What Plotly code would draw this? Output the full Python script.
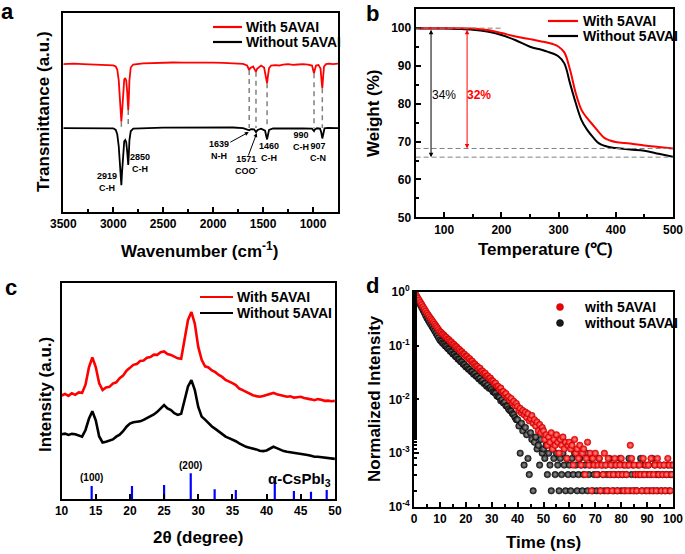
import plotly.graph_objects as go

# ---------------- data ----------------
# (a) FTIR
FTIR_WN_RED = [3500, 3400, 3300, 3200, 3100, 3050, 3000, 2975, 2960, 2945, 2935, 2925, 2919, 2912, 2900, 2890, 2880, 2870,
               2860, 2855, 2850, 2845, 2838, 2825, 2800, 2700, 2600, 2500, 2400, 2300, 2200, 2100, 2000, 1900, 1800, 1700,
               1660, 1645, 1639, 1630, 1600, 1580, 1571, 1560, 1520, 1490, 1475, 1465, 1460, 1452, 1440, 1420, 1380, 1340,
               1300, 1250, 1200, 1150, 1100, 1050, 1010, 995, 990, 983, 970, 945, 925, 915, 907, 900, 890, 870, 840, 800,
               760, 750]
FTIR_RED = [0.742, 0.744, 0.742, 0.740, 0.737, 0.735, 0.736, 0.730, 0.715, 0.660, 0.580, 0.490, 0.453, 0.500, 0.620,
            0.665, 0.672, 0.660, 0.600, 0.540, 0.512, 0.560, 0.660, 0.725, 0.740, 0.746, 0.748, 0.748, 0.750, 0.749,
            0.750, 0.750, 0.749, 0.748, 0.746, 0.743, 0.735, 0.715, 0.712, 0.722, 0.730, 0.712, 0.704, 0.718, 0.735,
            0.725, 0.690, 0.650, 0.646, 0.680, 0.722, 0.735, 0.737, 0.735, 0.740, 0.742, 0.738, 0.740, 0.742, 0.740,
            0.735, 0.705, 0.696, 0.712, 0.735, 0.738, 0.720, 0.660, 0.621, 0.670, 0.730, 0.742, 0.744, 0.742, 0.745,
            0.744]
FTIR_WN_BLACK = [3500, 3300, 3100, 3000, 2975, 2960, 2945, 2935, 2925, 2919, 2912, 2900, 2890, 2880, 2870, 2860, 2855,
                 2850, 2845, 2838, 2825, 2800, 2500, 2000, 1800, 1700, 1660, 1639, 1620, 1590, 1571, 1555, 1520, 1480,
                 1468, 1460, 1452, 1440, 1400, 1300, 1200, 1100, 1010, 995, 990, 982, 960, 930, 918, 907, 898, 885,
                 850, 800, 750]
FTIR_BLACK = [0.421, 0.420, 0.421, 0.420, 0.412, 0.390, 0.330, 0.250, 0.170, 0.135, 0.200, 0.320, 0.355, 0.361, 0.350,
              0.300, 0.265, 0.236, 0.280, 0.360, 0.405, 0.418, 0.423, 0.425, 0.424, 0.421, 0.414, 0.410, 0.416, 0.415,
              0.401, 0.412, 0.418, 0.408, 0.380, 0.364, 0.385, 0.412, 0.419, 0.420, 0.421, 0.420, 0.418, 0.408, 0.406,
              0.414, 0.420, 0.418, 0.400, 0.369, 0.400, 0.420, 0.422, 0.420, 0.421]
PEAK_WN = [2919, 2850, 1639, 1571, 1460, 990, 907]
PEAK_RED_DIP = [0.453, 0.512, 0.712, 0.704, 0.646, 0.696, 0.621]
PEAK_BLACK_LEVEL = [0.421, 0.421, 0.421, 0.421, 0.421, 0.421, 0.421]

# (b) TGA
TGA_T = [50, 75, 100, 125, 150, 175, 200, 225, 250, 270, 280, 290, 300, 310, 320, 330, 340, 350, 360, 370, 380, 390,
         400, 425, 450, 475, 500]
TGA_WITH = [100.0, 100.0, 100.0, 100.0, 99.9, 99.5, 98.7, 97.8, 97.1, 96.5, 96.2, 95.8, 95.1, 93.6, 89.0, 82.8, 78.4,
            76.2, 74.4, 72.6, 71.0, 70.3, 69.9, 69.5, 69.0, 68.6, 68.2]
TGA_WITHOUT = [100.0, 99.9, 99.9, 99.8, 99.6, 99.1, 98.2, 96.8, 95.1, 94.3, 93.8, 93.3, 92.5, 90.7, 85.4, 80.2, 75.7,
               73.1, 71.2, 69.6, 68.9, 68.5, 68.3, 67.9, 67.6, 66.8, 66.0]
TGA_RESIDUE_WITH = 68.2
TGA_RESIDUE_WITHOUT = 65.9
TGA_LOSS_LABELS = ["34%", "32%"]

# (c) XRD
XRD_2THETA = [10.0, 10.5, 11.0, 11.5, 12.0, 12.5, 13.0, 13.5, 14.0, 14.5, 15.0, 15.5, 16.0, 16.5, 17.0, 17.5, 18.0,
              18.5, 19.0, 19.5, 20.0, 20.5, 21.0, 21.5, 22.0, 22.5, 23.0, 23.5, 24.0, 24.5, 25.0, 25.5, 26.0, 26.5,
              27.0, 27.5, 28.0, 28.5, 29.0, 29.5, 30.0, 30.5, 31.0, 31.5, 32.0, 32.5, 33.0, 33.5, 34.0, 34.5, 35.0,
              35.5, 36.0, 36.5, 37.0, 37.5, 38.0, 38.5, 39.0, 39.5, 40.0, 40.5, 41.0, 41.5, 42.0, 42.5, 43.0, 43.5,
              44.0, 44.5, 45.0, 45.5, 46.0, 46.5, 47.0, 47.5, 48.0, 48.5, 49.0, 49.5, 50.0]
XRD_WITH = [0.480, 0.487, 0.478, 0.490, 0.483, 0.494, 0.492, 0.530, 0.610, 0.656, 0.612, 0.536, 0.505, 0.517, 0.520,
            0.535, 0.541, 0.560, 0.572, 0.595, 0.608, 0.622, 0.626, 0.640, 0.642, 0.655, 0.658, 0.669, 0.668, 0.680,
            0.684, 0.672, 0.668, 0.660, 0.652, 0.650, 0.736, 0.830, 0.867, 0.812, 0.705, 0.645, 0.615, 0.610, 0.596,
            0.588, 0.575, 0.566, 0.552, 0.546, 0.537, 0.528, 0.512, 0.505, 0.497, 0.488, 0.481, 0.477, 0.474, 0.478,
            0.482, 0.488, 0.492, 0.486, 0.481, 0.477, 0.474, 0.476, 0.470, 0.472, 0.474, 0.468, 0.466, 0.462, 0.458,
            0.463, 0.460, 0.455, 0.456, 0.453, 0.455]
XRD_WITHOUT = [0.300, 0.303, 0.297, 0.302, 0.300, 0.295, 0.289, 0.320, 0.372, 0.407, 0.365, 0.290, 0.262, 0.265, 0.270,
               0.276, 0.289, 0.298, 0.314, 0.335, 0.350, 0.356, 0.358, 0.360, 0.367, 0.375, 0.381, 0.392, 0.404, 0.420,
               0.435, 0.420, 0.412, 0.398, 0.390, 0.395, 0.458, 0.522, 0.551, 0.505, 0.427, 0.382, 0.368, 0.350, 0.336,
               0.325, 0.312, 0.300, 0.289, 0.282, 0.276, 0.268, 0.258, 0.250, 0.242, 0.238, 0.235, 0.230, 0.224, 0.222,
               0.225, 0.234, 0.242, 0.236, 0.228, 0.222, 0.219, 0.217, 0.214, 0.212, 0.211, 0.207, 0.204, 0.200, 0.196,
               0.196, 0.194, 0.190, 0.188, 0.187, 0.186]
XRD_REF_POS = [14.4, 20.3, 25.0, 28.9, 32.4, 35.5, 41.2, 44.0, 46.5, 48.8]
XRD_REF_HEIGHT = [0.060, 0.060, 0.065, 0.119, 0.045, 0.042, 0.096, 0.037, 0.034, 0.042]
XRD_REF_LABELS = ["(100)", "(200)"]

# (d) TRPL, counts every 0.5 ns, normalised to peak counts
TIME_NS = [i * 0.5 for i in range(201)]
PL_COUNTS_WITH = [
    5000, 4560, 4160, 3790, 3460, 3160, 2880, 2620, 2390, 2180, 1990, 1840, 1700, 1570, 1455, 1345, 1245, 1150, 1065, 985,
    910, 872, 815, 785, 733, 708, 660, 640, 596, 577, 536, 520, 484, 470, 436, 424, 392, 382, 352, 345,
    318, 312, 285, 284, 258, 256, 232, 226, 208, 204, 186, 189, 168, 167, 152, 153, 136, 136, 123, 124,
    112, 109, 98, 100, 88, 87, 78, 81, 69, 70, 61, 64, 54, 56, 48, 52, 43, 46, 38, 42,
    37, 31, 34, 28, 31, 26, 29, 23, 27, 20, 22, 25, 18, 21, 16, 19, 13, 17, 12, 15,
    13, 9, 11, 7, 10, 8, 12, 6, 9, 7, 11, 8, 5, 9, 7, 10, 6, 8, 4, 7,
    8, 6, 7, 3, 9, 5, 6, 4, 7, 3, 5, 6, 2, 4, 8, 3, 5, 1, 4, 3,
    5, 2, 3, 4, 1, 3, 2, 5, 3, 1, 4, 2, 3, 1, 2, 4, 3, 1, 2, 3,
    4, 2, 1, 3, 2, 1, 3, 7, 4, 1, 3, 2, 1, 2, 3, 2, 1, 4, 2, 3,
    1, 3, 2, 4, 1, 2, 3, 1, 4, 2, 3, 1, 2, 3, 1, 2, 4, 3, 1, 2, 3]
PL_COUNTS_WITHOUT = [
    5000, 4460, 3970, 3540, 3150, 2820, 2535, 2270, 2040, 1815, 1620, 1475, 1345, 1225, 1120, 1020, 930, 845, 765, 695,
    630, 598, 555, 532, 494, 476, 440, 425, 392, 379, 348, 340, 313, 305, 279, 274, 251, 246, 225, 220,
    200, 199, 182, 179, 164, 162, 147, 149, 134, 133, 120, 122, 108, 111, 98, 99, 88, 91, 80, 83,
    76, 69, 67, 65, 58, 56, 54, 47, 49, 43, 44, 38, 37, 33, 31, 30, 27, 26, 23, 21,
    21, 16, 5, 18, 13, 3, 15, 11, 4, 2, 12, 9, 1, 8, 10, 6, 7, 3, 9, 5,
    6, 4, 7, 2, 5, 3, 1, 6, 4, 2, 5, 3, 1, 4, 2, 5, 3, 1, 4, 2,
    3, 1, 4, 2, 5, 3, 1, 2, 4, 3, 1, 2, 3, 5, 1, 2, 3, 4, 1, 2,
    3, 1, 2, 4, 1, 3, 2, 1, 3, 2, 1, 4, 2, 3, 1, 2, 3, 1, 2, 4,
    1, 2, 3, 1, 2, 3, 4, 1, 2, 3, 1, 2, 1, 3, 2, 4, 1, 2, 3, 1,
    2, 3, 1, 2, 4, 1, 3, 2, 1, 2, 3, 1, 2, 3, 1, 2, 3, 1, 2, 3, 2]
PL_NORM_WITH = [c / PL_COUNTS_WITH[0] for c in PL_COUNTS_WITH]
PL_NORM_WITHOUT = [c / PL_COUNTS_WITHOUT[0] for c in PL_COUNTS_WITHOUT]

LOG_TICKS = [1e-4, 1e-3, 1e-2, 1e-1, 1]
LOG_TICKTEXT = ["10<sup>-4</sup>", "10<sup>-3</sup>", "10<sup>-2</sup>", "10<sup>-1</sup>", "10<sup>0</sup>"]

SERIES_NAMES = ["With 5AVAI", "Without 5AVAI"]
SERIES_NAMES_D = ["with 5AVAI", "without 5AVAI"]

# ---------------- layout helpers ----------------
W, H = 685, 554
FONT = "Liberation Sans, Arial, sans-serif"
RED = "#ff0000"
BLACK = "#000000"


def fx(p):
    return p / W


def fy(p):
    return 1 - p / H


def axis(domain, anchor, **kw):
    base = dict(domain=domain, anchor=anchor, showline=True, linewidth=2, linecolor="black", mirror=True,
                ticks="inside", ticklen=5, tickwidth=1.5, tickcolor="black", automargin=False,
                tickfont=dict(family=FONT, size=12, color="black", weight="bold"),
                showgrid=False, zeroline=False)
    base.update(kw)
    return base


fig = go.Figure()

# (a)
fig.add_trace(go.Scatter(x=FTIR_WN_RED, y=FTIR_RED, mode="lines", line=dict(color=RED, width=1.8),
                         name=SERIES_NAMES[0], xaxis="x", yaxis="y", showlegend=False))
fig.add_trace(go.Scatter(x=FTIR_WN_BLACK, y=FTIR_BLACK, mode="lines", line=dict(color=BLACK, width=1.8),
                         name=SERIES_NAMES[1], xaxis="x", yaxis="y", showlegend=False))
# (b)
fig.add_trace(go.Scatter(x=TGA_T, y=TGA_WITHOUT, mode="lines", line=dict(color=BLACK, width=2, shape="spline"),
                         name=SERIES_NAMES[1], xaxis="x2", yaxis="y2", showlegend=False))
fig.add_trace(go.Scatter(x=TGA_T, y=TGA_WITH, mode="lines", line=dict(color=RED, width=2, shape="spline"),
                         name=SERIES_NAMES[0], xaxis="x2", yaxis="y2", showlegend=False))
# (c)
fig.add_trace(go.Scatter(x=XRD_2THETA, y=XRD_WITH, mode="lines", line=dict(color=RED, width=2.6),
                         name=SERIES_NAMES[0], xaxis="x3", yaxis="y3", showlegend=False))
fig.add_trace(go.Scatter(x=XRD_2THETA, y=XRD_WITHOUT, mode="lines", line=dict(color=BLACK, width=2.6),
                         name=SERIES_NAMES[1], xaxis="x3", yaxis="y3", showlegend=False))
fig.add_trace(go.Bar(x=XRD_REF_POS, y=XRD_REF_HEIGHT, width=0.32, marker=dict(color="#0000ff", line=dict(width=0)),
                     showlegend=False, xaxis="x3", yaxis="y3"))
# (d)
fig.add_trace(go.Scatter(x=TIME_NS, y=PL_NORM_WITHOUT, mode="markers", name=SERIES_NAMES_D[1],
                         marker=dict(size=6.5, color="#1a1a1a", line=dict(color="black", width=0.5),
                                     gradient=dict(type="radial", color="#9a9a9a")),
                         xaxis="x4", yaxis="y4", showlegend=False))
fig.add_trace(go.Scatter(x=TIME_NS, y=PL_NORM_WITH, mode="markers", name=SERIES_NAMES_D[0],
                         marker=dict(size=6.5, color="#ee0000", line=dict(color="#c00000", width=0.5),
                                     gradient=dict(type="radial", color="#ff9090")),
                         xaxis="x4", yaxis="y4", showlegend=False))

shapes = []
# (a) dashed connectors
for wn, top, bot in zip(PEAK_WN, PEAK_RED_DIP, PEAK_BLACK_LEVEL):
    shapes.append(dict(type="line", xref="x", yref="y", x0=wn, x1=wn, y0=top, y1=bot,
                       line=dict(color="#808080", width=1.5, dash="5px,4px")))
# (b) dashed guides
shapes.append(dict(type="line", xref="x2", yref="y2", x0=50, x1=200, y0=100, y1=100,
                   line=dict(color="#808080", width=1, dash="5px,3px")))
for lvl in (TGA_RESIDUE_WITH, TGA_RESIDUE_WITHOUT):
    shapes.append(dict(type="line", xref="x2", yref="y2", x0=50, x1=500, y0=lvl, y1=lvl,
                       line=dict(color="#808080", width=1, dash="5px,3px")))

ann = []
leg_font = dict(family=FONT, size=14, color="black", weight="bold")


def line_legend(x0, x1, ytop, gap, tx):
    for i, (name, col) in enumerate(zip(SERIES_NAMES, (RED, BLACK))):
        yy = ytop + i * gap
        shapes.append(dict(type="line", xref="paper", yref="paper", x0=fx(x0), x1=fx(x1), y0=fy(yy), y1=fy(yy),
                           line=dict(color=col, width=2.2)))
        ann.append(dict(text=name, x=fx(tx), y=fy(yy), xref="paper", yref="paper", showarrow=False,
                        xanchor="left", yanchor="middle", font=leg_font))


line_legend(213, 242, 27, 15, 244)
line_legend(548, 578, 21, 15, 581)
line_legend(200, 233, 297, 16, 235)
# (d) marker legend
for i, (name, col, edge) in enumerate(zip(SERIES_NAMES_D, ("#ee0000", "#1a1a1a"), ("#c00000", "black"))):
    yy = 307 + i * 16
    shapes.append(dict(type="circle", xref="paper", yref="paper", x0=fx(556.5), x1=fx(563.5),
                       y0=fy(yy + 3.5), y1=fy(yy - 3.5), fillcolor=col, line=dict(color=edge, width=0.5)))
    ann.append(dict(text=name, x=fx(582), y=fy(yy), xref="paper", yref="paper", showarrow=False,
                    xanchor="left", yanchor="middle", font=leg_font))

lab = dict(family=FONT, size=9, color="black", weight="bold")
for txt, x, y in [("2919<br>C-H", 3063, 0.151), ("2850<br>C-H", 2733, 0.246), ("1639<br>N-H", 1943, 0.311),
                  ("1571<br>COO<sup>-</sup>", 1663, 0.236), ("1460<br>C-H", 1443, 0.301),
                  ("990<br>C-H", 1118, 0.356), ("907<br>C-N", 950, 0.301)]:
    ann.append(dict(text=txt, x=x, y=y, xref="x", yref="y", showarrow=False, font=lab))
for hx, hy, tx, ty in [(1643, 0.401, 1843, 0.346), (1563, 0.396, 1653, 0.276)]:
    ann.append(dict(text="", x=hx, y=hy, ax=tx, ay=ty, xref="x", yref="y", axref="x", ayref="y",
                    showarrow=True, arrowhead=2, arrowsize=0.8, arrowwidth=1, arrowcolor="black"))
# (b) arrows and labels
ann.append(dict(text="", x=77, y=TGA_RESIDUE_WITHOUT, ax=77, ay=100, xref="x2", yref="y2", axref="x2", ayref="y2",
                showarrow=True, arrowhead=2, startarrowhead=2, arrowside="end+start", arrowsize=0.9,
                arrowwidth=1, arrowcolor="black"))
ann.append(dict(text="", x=140, y=TGA_RESIDUE_WITH, ax=140, ay=100, xref="x2", yref="y2", axref="x2", ayref="y2",
                showarrow=True, arrowhead=2, startarrowhead=2, arrowside="end+start", arrowsize=0.9,
                arrowwidth=1, arrowcolor=RED))
ann.append(dict(text=TGA_LOSS_LABELS[0], x=99, y=82.4, xref="x2", yref="y2", showarrow=False,
                font=dict(family=FONT, size=12, color="black")))
ann.append(dict(text=TGA_LOSS_LABELS[1], x=161, y=82.4, xref="x2", yref="y2", showarrow=False,
                font=dict(family=FONT, size=12, color=RED, weight="bold")))
# (c) reflections
ann.append(dict(text=XRD_REF_LABELS[0], x=14.4, y=0.065, xref="x3", yref="y3", showarrow=False, yanchor="bottom",
                font=dict(family=FONT, size=10, color="black", weight="bold")))
ann.append(dict(text=XRD_REF_LABELS[1], x=28.9, y=0.12, xref="x3", yref="y3", showarrow=False, yanchor="bottom",
                font=dict(family=FONT, size=10, color="black", weight="bold")))
ann.append(dict(text="α-CsPbI<sub>3</sub>", x=fx(333), y=fy(479), xref="paper", yref="paper", showarrow=False,
                xanchor="right", yanchor="middle", font=dict(family=FONT, size=15, color="black", weight="bold")))

# axis titles
tt = dict(family=FONT, size=17, color="black", weight="bold")
for txt, x, y, ang in [("Wavenumber (cm<sup>-1</sup>)", 200, 250, 0), ("Transmittance (a.u.)", 44, 112, -90),
                       ("Temperature (℃)", 545, 250, 0), ("Weight (%)", 373, 113, -90),
                       ("2θ (degree)", 198, 537, 0), ("Intensity (a.u.)", 45, 395, -90),
                       ("Time (ns)", 543, 542, 0), ("Normalized Intensity", 374, 398, -90)]:
    ann.append(dict(text=txt, x=fx(x), y=fy(y), xref="paper", yref="paper", showarrow=False,
                    textangle=ang, font=tt, xanchor="center", yanchor="middle"))
# panel letters
for txt, x, y in [("a", 7, 12), ("b", 372, 13), ("c", 11, 287), ("d", 372, 285)]:
    ann.append(dict(text=txt, x=fx(x), y=fy(y), xref="paper", yref="paper", showarrow=False,
                    font=dict(family=FONT, size=22, color="black", weight="bold"),
                    xanchor="center", yanchor="middle"))

fig.update_layout(
    width=W, height=H, margin=dict(l=0, r=0, t=0, b=0, autoexpand=False),
    paper_bgcolor="white", plot_bgcolor="white", showlegend=False,
    xaxis=axis([fx(63.3), fx(338)], "y", range=[3500, 750], tickvals=[3500, 3000, 2500, 2000, 1500, 1000],
               minor=dict(dtick=250, ticks="inside", ticklen=3, tickcolor="black")),
    yaxis=axis([fy(212), fy(12.7)], "x", range=[0, 1], showticklabels=False, ticks=""),
    xaxis2=axis([fx(415.6), fx(673)], "y2", range=[50, 500], tickvals=[100, 200, 300, 400, 500],
                minor=dict(dtick=50, ticks="inside", ticklen=3, tickcolor="black")),
    yaxis2=axis([fy(217.3), fy(8.5)], "x2", range=[50, 105.2], tickvals=[50, 60, 70, 80, 90, 100],
                minor=dict(dtick=5, ticks="inside", ticklen=3, tickcolor="black")),
    xaxis3=axis([fx(61.6), fx(334.9)], "y3", range=[10, 50], tickvals=[10, 15, 20, 25, 30, 35, 40, 45, 50]),
    yaxis3=axis([fy(499), fy(283.3)], "x3", range=[0, 1], showticklabels=False, ticks=""),
    xaxis4=axis([fx(414), fx(673)], "y4", range=[0, 100], tickvals=[0, 10, 20, 30, 40, 50, 60, 70, 80, 90, 100],
                minor=dict(dtick=5, ticks="inside", ticklen=3, tickcolor="black")),
    yaxis4=axis([fy(507), fy(291.7)], "x4", type="log", range=[-4, 0], tickvals=LOG_TICKS, ticktext=LOG_TICKTEXT,
                minor=dict(ticks="inside", ticklen=3, tickcolor="black")),
    shapes=shapes,
    annotations=ann,
)

fig.write_html("out.html", config={"displayModeBar": False},
               post_script="document.body.style.margin='0';document.body.style.padding='0';")
